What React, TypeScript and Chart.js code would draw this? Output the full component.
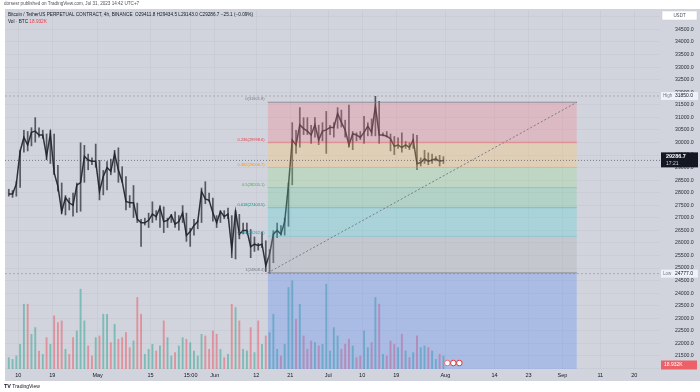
import React, { useEffect, useRef } from 'react';
import { Chart, registerables } from 'chart.js';

Chart.register(...registerables);

// Day index counted from 1 Apr 2023 (= 0). First candle = 7 Apr 2023.
const FIRST_DAY = 6;

const dailyLow = [
  27850, 27800, 27850, 28200, 29600, 29650, 29850, 30000, 30200, 30150,
  29300, 29150, 28700, 28050, 27150, 27100, 27300, 27050, 27200, 27250,
  28400, 28900, 29100, 29000, 27700, 27900, 28100, 28700, 28800, 28400,
  28400, 27300, 27400, 27000, 26800, 25850, 26700, 26600, 26800, 26900,
  26600, 26400, 26600, 26800, 26600, 26500, 26800, 26050, 25850, 26300,
  26550, 26800, 27550, 27650, 26850, 26600, 26800, 26950, 26950, 25400,
  25350, 26150, 26350, 26350, 25400, 25650, 25700, 25800, 24850, 24780,
  25200, 26200, 26300, 26300, 26650, 28300, 29550, 29800, 30300, 30300,
  29950, 30200, 29900, 30050, 29550, 30300, 30200, 30550, 30600, 30200,
  29800, 29700, 30050, 30100, 29950, 30250, 30250, 30250, 29950, 30250,
  30200, 29650, 29500, 29750, 29600, 29750, 29700, 29750, 28900, 29050,
  29150, 29100, 29150, 29250, 29050, 29150,
];
const dailyHigh = [
  28150, 28100, 28450, 29700, 30500, 30450, 30600, 31000, 30600, 30500,
  30350, 30500, 30350, 29100, 28400, 27900, 27800, 28000, 28400, 30000,
  29900, 29550, 29400, 29950, 29300, 28900, 29250, 29350, 29700, 29800,
  29050, 28650, 27900, 28300, 27600, 26950, 27000, 27200, 27650, 27300,
  27500, 27450, 27000, 27150, 27250, 27100, 27500, 27200, 26600, 26950,
  26900, 28200, 28450, 28000, 27800, 27100, 27300, 27300, 27400, 27100,
  27300, 27150, 26800, 26800, 26550, 26250, 26000, 26450, 26100, 25750,
  26500, 26800, 26700, 27000, 28400, 30800, 30500, 31400, 31000, 31000,
  30700, 31000, 30700, 30800, 31250, 30700, 30800, 31400, 31300, 30900,
  31500, 30450, 30400, 30450, 31050, 30800, 30950, 31850, 31650, 30400,
  30450, 30350, 30250, 30200, 30400, 30050, 30000, 30350, 30300, 29400,
  29700, 29600, 29550, 29450, 29500, 29450,
];
const dailyClose = [
  27950, 27950, 28350, 29650, 30200, 29900, 30400, 30450, 30300, 30300,
  29450, 30350, 28800, 28250, 27250, 27800, 27600, 27500, 28300, 28400,
  29450, 29300, 29250, 29250, 28050, 28650, 29000, 28850, 29550, 28900,
  28450, 27650, 27600, 27600, 26950, 26800, 26800, 26900, 27150, 27050,
  27400, 26850, 26900, 27100, 26750, 26850, 27200, 26300, 26450, 26700,
  26850, 28050, 27750, 27700, 27200, 26800, 27250, 27050, 27150, 25750,
  27250, 26350, 26500, 26500, 25850, 25950, 25900, 25950, 25100, 25550,
  26350, 26500, 26350, 26850, 28300, 30100, 29900, 30700, 30550, 30450,
  30300, 30700, 30100, 30450, 30500, 30600, 30600, 31150, 30800, 30500,
  29900, 30350, 30300, 30200, 30400, 30650, 30400, 31450, 30300, 30300,
  30250, 30150, 29850, 29900, 29800, 29900, 29800, 30100, 29150, 29200,
  29350, 29250, 29300, 29350, 29250, 29287,
];
// Volume spikes (K BTC)
const dailyVolumeK = [
  70, 60, 80, 150, 390, 390, 210, 250, 110, 90,
  190, 150, 320, 280, 290, 120, 90, 190, 230, 480,
  290, 140, 80, 190, 200, 330, 330, 160, 270, 180,
  190, 220, 130, 170, 430, 330, 90, 120, 150, 110,
  140, 290, 190, 80, 100, 140, 190, 180, 160, 110,
  80, 210, 200, 120, 230, 210, 120, 70, 90, 390,
  370, 290, 120, 110, 250, 100, 290, 150, 200, 220,
  330, 120, 80, 150, 490, 530, 300, 390, 200, 120,
  170, 160, 140, 150, 510, 110, 250, 200, 120, 150,
  180, 140, 70, 80, 230, 130, 160, 430, 390, 90,
  80, 170, 150, 130, 210, 110, 70, 100, 200, 130,
  140, 130, 110, 60, 90, 80,
];

const xTickDays = [9, 18, 30, 44, 54.6, 61, 72, 81, 91, 100, 109, 122, 135, 144, 153, 163, 172];
const xTickLabels = ['10', '19', 'May', '15', '15:00', 'Jun', '12', '21', 'Jul', '10', '19', 'Aug', '14', '23', 'Sep', '11', '20'];
const priceTicks = [21000, 21500, 22000, 22500, 23000, 23500, 24000, 24500, 25000, 25500, 26000, 26500, 27000, 27500, 28000, 28500, 29000, 29500, 30000, 30500, 31000, 31500, 32000, 32500, 33000, 33500, 34000, 34500, 35000];

const fibRatios = [0, 0.236, 0.382, 0.5, 0.618, 0.786, 1, 1.618];
const fibHigh = 31601.8;
const fibLow = 24808.4;
const fibStartDay = 75;
const fibEndDay = 156.8;
const fibLineColors = ['rgba(120,123,134,0.7)', 'rgba(242,54,69,0.32)', 'rgba(255,152,0,0.35)', 'rgba(76,175,80,0.3)', 'rgba(8,153,129,0.3)', 'rgba(0,188,212,0.22)', 'rgba(120,123,134,0.7)', 'rgba(0,0,0,0)'];
const fibTextColors = ['#787b86', '#f23645', '#ff9800', '#4caf50', '#089981', '#00acc1', '#787b86'];
const fibZoneColors = ['rgba(242,125,140,0.3)', 'rgba(255,196,100,0.3)', 'rgba(146,219,140,0.3)', 'rgba(106,205,153,0.3)', 'rgba(79,205,213,0.3)', 'rgba(166,169,177,0.3)', 'rgba(79,129,247,0.3)'];

const highValue = 31850.0;
const lowValue = 24777.0;
const lastPrice = 29286.7;
const lastVolumeK = 18.932;

const X_MIN = 5.5;
const X_MAX = 178.8;
const PANEL_BG = 'rgb(209,212,220)';
const FONT = '"Liberation Sans", Arial, sans-serif';

const overlayPlugin = {
  id: 'tvOverlay',
  beforeDraw(chart: any) {
    const ctx = chart.ctx;
    ctx.save();
    ctx.fillStyle = '#ffffff';
    ctx.fillRect(0, 0, 700, 392);
    ctx.fillStyle = PANEL_BG;
    ctx.fillRect(5, 9, 695, 372);
    ctx.restore();
  },
  afterDraw(chart: any) {
    const ctx = chart.ctx;
    const xs = chart.scales.x;
    const ys = chart.scales.y;
    const yv = chart.scales.yVol;
    ctx.save();
    // fib labels
    ctx.font = `4px ${FONT}`;
    ctx.textAlign = 'right';
    ctx.textBaseline = 'bottom';
    const range = fibHigh - fibLow;
    for (let i = 0; i < 7; i++) {
      const r = fibRatios[i];
      const v = fibHigh - r * range;
      ctx.fillStyle = fibTextColors[i];
      ctx.fillText(`${r}(${v.toFixed(1)})`, xs.getPixelForValue(fibStartDay) - 3, ys.getPixelForValue(v) - 1);
    }
    // right axis tags
    ctx.textAlign = 'left';
    ctx.textBaseline = 'middle';
    const tag = (yc: number, name: string, value: string) => {
      ctx.fillStyle = 'rgb(238,241,248)';
      ctx.fillRect(661, yc - 4, 37, 8);
      ctx.font = `4.5px ${FONT}`;
      ctx.fillStyle = '#787b86';
      ctx.fillText(name, 663, yc);
      ctx.font = `5px ${FONT}`;
      ctx.fillStyle = '#131722';
      ctx.fillText(value, 675, yc);
    };
    tag(ys.getPixelForValue(highValue), 'High', highValue.toFixed(1));
    tag(ys.getPixelForValue(lowValue), 'Low', lowValue.toFixed(1));
    // last price
    const py = ys.getPixelForValue(lastPrice);
    ctx.fillStyle = '#131722';
    ctx.fillRect(661, py - 8, 37, 15);
    ctx.fillStyle = '#ffffff';
    ctx.font = `bold 5.5px ${FONT}`;
    ctx.fillText(lastPrice.toFixed(1), 666, py - 3.5);
    ctx.font = `5px ${FONT}`;
    ctx.fillStyle = '#d1d4dc';
    ctx.fillText('17:21', 666, py + 3.5);
    // volume tag
    const vy = Math.min(yv.getPixelForValue(lastVolumeK), 365);
    ctx.fillStyle = 'rgb(236,96,104)';
    ctx.fillRect(661, vy - 4.5, 36, 9);
    ctx.fillStyle = '#ffffff';
    ctx.font = `5px ${FONT}`;
    ctx.fillText(`${lastVolumeK}K`, 664, vy);
    // currency box
    ctx.fillStyle = '#ffffff';
    ctx.fillRect(662, 11, 35, 9);
    ctx.strokeStyle = '#c9ccd4';
    ctx.lineWidth = 0.5;
    ctx.strokeRect(662, 11, 35, 9);
    ctx.fillStyle = '#50535e';
    ctx.font = `4.5px ${FONT}`;
    ctx.textAlign = 'center';
    ctx.fillText('USDT', 679.5, 15.5);
    // event markers
    const ex = xs.getPixelForValue(FIRST_DAY + dailyLow.length) + 2;
    const ey = 363;
    const marks = [['#ffffff', '#e57373'], ['#ffffff', '#e53935'], ['#ffffff', '#e53935']];
    marks.forEach((m, i) => {
      ctx.beginPath();
      ctx.arc(ex + i * 6, ey, 2.8, 0, Math.PI * 2);
      ctx.fillStyle = m[0];
      ctx.fill();
      ctx.strokeStyle = m[1];
      ctx.lineWidth = 1;
      ctx.stroke();
    });
    ctx.restore();
  },
};

export default function App() {
  const ref = useRef<HTMLCanvasElement | null>(null);

  useEffect(() => {
    if (!ref.current) return;
    const range = fibHigh - fibLow;
    const fibLevels = fibRatios.map((r) => fibHigh - r * range);
    const fibDatasets = fibLevels.map((lv, i) => ({
      type: 'line',
      data: [{ x: fibStartDay, y: lv }, { x: fibEndDay, y: lv }],
      borderColor: fibLineColors[i],
      borderWidth: i === 7 ? 0 : i === 1 ? 1.5 : 1,
      pointRadius: 0,
      fill: i === 0 ? false : '-1',
      backgroundColor: i === 0 ? 'rgba(0,0,0,0)' : fibZoneColors[i - 1],
      order: 1,
      xAxisID: 'x',
      yAxisID: 'y',
    }));

    const volColors = dailyVolumeK.map((_, i) =>
      i > 0 && dailyClose[i] < dailyClose[i - 1] ? 'rgba(242,54,69,0.42)' : 'rgba(8,153,129,0.42)'
    );

    const wicks = {
      type: 'bar',
      data: dailyLow.map((lo, i) => ({ x: FIRST_DAY + i + 0.5, y: [lo, dailyHigh[i]] })),
      backgroundColor: 'rgba(45,48,58,0.75)',
      borderWidth: 0,
      barPercentage: 0.45,
      categoryPercentage: 1,
      grouped: false,
      order: 5,
      xAxisID: 'x',
      yAxisID: 'y',
    };
    const closeLine = {
      type: 'line',
      data: dailyClose.map((c, i) => ({ x: FIRST_DAY + i + 0.5, y: c })),
      borderColor: 'rgba(30,32,40,0.9)',
      borderWidth: 1.5,
      pointRadius: 0,
      tension: 0,
      fill: false,
      order: 4,
      xAxisID: 'x',
      yAxisID: 'y',
    };
    const volume = {
      type: 'bar',
      data: dailyVolumeK.map((v, i) => ({ x: FIRST_DAY + i + 0.5, y: v })),
      backgroundColor: volColors,
      borderWidth: 0,
      barPercentage: 0.5,
      categoryPercentage: 1,
      grouped: false,
      order: 6,
      xAxisID: 'x',
      yAxisID: 'yVol',
    };
    const hLine = (v: number, color: string, dash: number[]) => ({
      type: 'line',
      data: [{ x: X_MIN, y: v }, { x: X_MAX, y: v }],
      borderColor: color,
      borderWidth: 1,
      borderDash: dash,
      pointRadius: 0,
      fill: false,
      order: 0,
      xAxisID: 'x',
      yAxisID: 'y',
    });
    const trend = {
      type: 'line',
      data: [{ x: fibStartDay, y: fibLow }, { x: fibEndDay, y: fibHigh }],
      borderColor: 'rgba(110,113,125,0.85)',
      borderWidth: 1,
      borderDash: [2, 2],
      pointRadius: 0,
      fill: false,
      order: 0,
      xAxisID: 'x',
      yAxisID: 'y',
    };

    const chart = new Chart(ref.current, {
      type: 'bar',
      data: {
        datasets: [
          ...fibDatasets,
          wicks,
          closeLine,
          volume,
          hLine(highValue, 'rgba(120,123,134,0.45)', [2, 2]),
          hLine(lowValue, 'rgba(120,123,134,0.45)', [2, 2]),
          hLine(lastPrice, 'rgba(40,44,56,0.55)', [1, 2]),
          trend,
        ] as any,
      },
      options: {
        responsive: false,
        animation: false,
        devicePixelRatio: 1,
        events: [],
        layout: { autoPadding: false, padding: { left: 5, top: 10, right: 0, bottom: 11 } },
        plugins: { legend: { display: false }, tooltip: { enabled: false } },
        scales: {
          x: {
            type: 'linear',
            offset: false,
            min: X_MIN,
            max: X_MAX,
            afterBuildTicks: (scale: any) => {
              scale.ticks = xTickDays.map((v) => ({ value: v }));
            },
            afterFit: (scale: any) => {
              scale.height = 12;
              scale.paddingLeft = 0;
              scale.paddingRight = 0;
            },
            ticks: {
              autoSkip: false,
              maxRotation: 0,
              padding: 3,
              font: { size: 5.5, family: FONT },
              color: '#131722',
              callback: (_v: any, idx: number) => xTickLabels[idx],
            },
            grid: { color: 'rgba(188,192,203,0.55)', drawTicks: false, lineWidth: 0.6, offset: false },
            border: { display: false },
          },
          y: {
            type: 'linear',
            position: 'right',
            min: 20982,
            max: 35273,
            afterBuildTicks: (scale: any) => {
              scale.ticks = priceTicks.map((v) => ({ value: v }));
            },
            afterFit: (scale: any) => {
              scale.width = 40;
              scale.paddingTop = 0;
              scale.paddingBottom = 0;
            },
            ticks: {
              padding: 15,
              font: { size: 5.2, family: FONT },
              color: '#2a2e39',
              callback: (v: any) => (v >= 21500 && v <= 34500 ? Number(v).toFixed(1) : ''),
            },
            grid: { color: 'rgba(188,192,203,0.55)', drawTicks: false, lineWidth: 0.6 },
            border: { display: false },
          },
          yVol: {
            type: 'linear',
            display: false,
            min: 0,
            max: 2150,
          },
        },
      } as any,
      plugins: [overlayPlugin],
    });
    return () => chart.destroy();
  }, []);

  const small: React.CSSProperties = {
    position: 'absolute',
    whiteSpace: 'nowrap',
    fontFamily: FONT,
    color: '#131722',
    lineHeight: '6px',
  };

  return (
    <div style={{ position: 'fixed', left: 0, top: 0, width: 700, height: 392, background: '#fff', overflow: 'hidden' }}>
      <canvas ref={ref} width={700} height={392} style={{ position: 'absolute', left: 0, top: 0, width: 700, height: 392 }} />
      <div style={{ ...small, left: 4, top: 1, fontSize: 4.6, color: '#50535e' }}>
        dorsesr published on TradingView.com, Jul 31, 2023 14:42 UTC+7
      </div>
      <div style={{ ...small, left: 8, top: 12, fontSize: 4.7 }}>
        Bitcoin / TetherUS PERPETUAL CONTRACT, 4h, BINANCE&nbsp; O29411.8 H29434.5 L29143.0 C29286.7 −25.1 (−0.09%)
      </div>
      <div style={{ ...small, left: 8, top: 19, fontSize: 4.7 }}>
        Vol · BTC <span style={{ color: '#f23645' }}>18.932K</span>
      </div>
      <div style={{ ...small, left: 4, top: 383, fontSize: 5 }}>
        <b style={{ fontSize: 5.5 }}>TV</b> TradingView
      </div>
    </div>
  );
}
